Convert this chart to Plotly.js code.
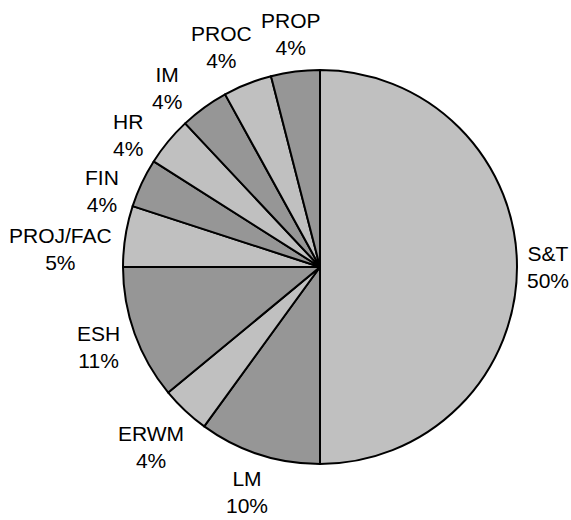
<!DOCTYPE html>
<html>
<head>
<meta charset="utf-8">
<script src="https://cdn.plot.ly/plotly-3.0.1.min.js"></script>
<style>
  html, body { margin: 0; padding: 0; background: #ffffff; }
  #chart { width: 571px; height: 520px; }
</style>
</head>
<body>
<div id="chart"></div>
<script>
// Share of effort by organisation (percent)
const categories = ['S&T', 'LM', 'ERWM', 'ESH', 'PROJ/FAC', 'FIN', 'HR', 'IM', 'PROC', 'PROP'];
const shares = [50, 10, 4, 11, 5, 4, 4, 4, 4, 4];

// Slices alternate between a light and a darker grey
const LIGHT = '#c0c0c0';
const DARK = '#969696';
const sliceColors = categories.map((_, i) => (i % 2 === 0 ? LIGHT : DARK));

const FONT_FAMILY = 'Liberation Sans, Arial, sans-serif';
const FONT_SIZE = 21;

const W = 571, H = 520;
const margin = { l: 123, r: 54, t: 70, b: 56 };
const plotW = W - margin.l - margin.r;   // square plot area
const plotH = H - margin.t - margin.b;
const radius = Math.min(plotW, plotH) / 2;
const LABEL_GAP = 10;
const HALF_H = 24;                       // half height of a two-line label
const PAD = 8;                           // minimum spacing between labels

// Measure label widths so each label sits just clear of the rim
const ctx = document.createElement('canvas').getContext('2d');
ctx.font = FONT_SIZE + 'px ' + FONT_FAMILY;
const textWidth = s => ctx.measureText(s).width;

const total = shares.reduce((a, b) => a + b, 0);

// Label box centre (pixels from pie centre, y up) for a given angle
function labelCentre(angle, halfW) {
  const s = Math.sin(angle), c = Math.cos(angle);
  const d = radius + LABEL_GAP + Math.abs(s) * halfW + Math.abs(c) * HALF_H;
  return { x: d * s, y: d * c };
}

// Slice mid-angles, clockwise from 12 o'clock
let cum = 0;
const labels = categories.map((name, i) => {
  const frac = shares[i] / total;
  const mid = (cum + frac / 2) * 2 * Math.PI;
  cum += frac;
  const pct = Math.round(frac * 100) + '%';
  const halfW = Math.max(textWidth(name), textWidth(pct)) / 2;
  return { name, pct, mid, halfW };
});

// Place labels from the last slice backwards (top, then down the left side),
// turning a label further round the rim while it collides with one already placed.
const placed = [];
const overlaps = (a, b) =>
  Math.abs(a.x - b.x) < a.halfW + b.halfW + PAD &&
  Math.abs(a.y - b.y) < 2 * HALF_H + PAD;

const order = labels.map((_, i) => i).reverse();
order.forEach(i => {
  const lab = labels[i];
  let angle = lab.mid;
  let pos = labelCentre(angle, lab.halfW);
  let box = { x: pos.x, y: pos.y, halfW: lab.halfW };
  let guard = 0;
  while (placed.some(p => overlaps(box, p)) && guard < 200) {
    angle -= Math.PI / 360;
    pos = labelCentre(angle, lab.halfW);
    box = { x: pos.x, y: pos.y, halfW: lab.halfW };
    guard++;
  }
  placed.push(box);
  lab.pos = pos;
});

const annotations = labels.map(lab => ({
  xref: 'paper', yref: 'paper',
  x: 0.5 + lab.pos.x / plotW,
  y: 0.5 + lab.pos.y / plotH,
  xanchor: 'center', yanchor: 'middle',
  text: lab.name + '<br>' + lab.pct,
  showarrow: false,
  align: 'center',
  font: { family: FONT_FAMILY, size: FONT_SIZE, color: '#000000' }
}));

const trace = {
  type: 'pie',
  labels: categories,
  values: shares,
  sort: false,
  direction: 'clockwise',
  rotation: 0,
  marker: {
    colors: sliceColors,
    line: { color: '#000000', width: 2 }
  },
  textinfo: 'none',
  hoverinfo: 'label+percent',
  showlegend: false
};

const layout = {
  width: W,
  height: H,
  margin: margin,
  paper_bgcolor: '#ffffff',
  plot_bgcolor: '#ffffff',
  showlegend: false,
  font: { family: FONT_FAMILY, size: FONT_SIZE, color: '#000000' },
  annotations: annotations
};

Plotly.newPlot('chart', [trace], layout, { staticPlot: true, displayModeBar: false });
</script>
</body>
</html>
